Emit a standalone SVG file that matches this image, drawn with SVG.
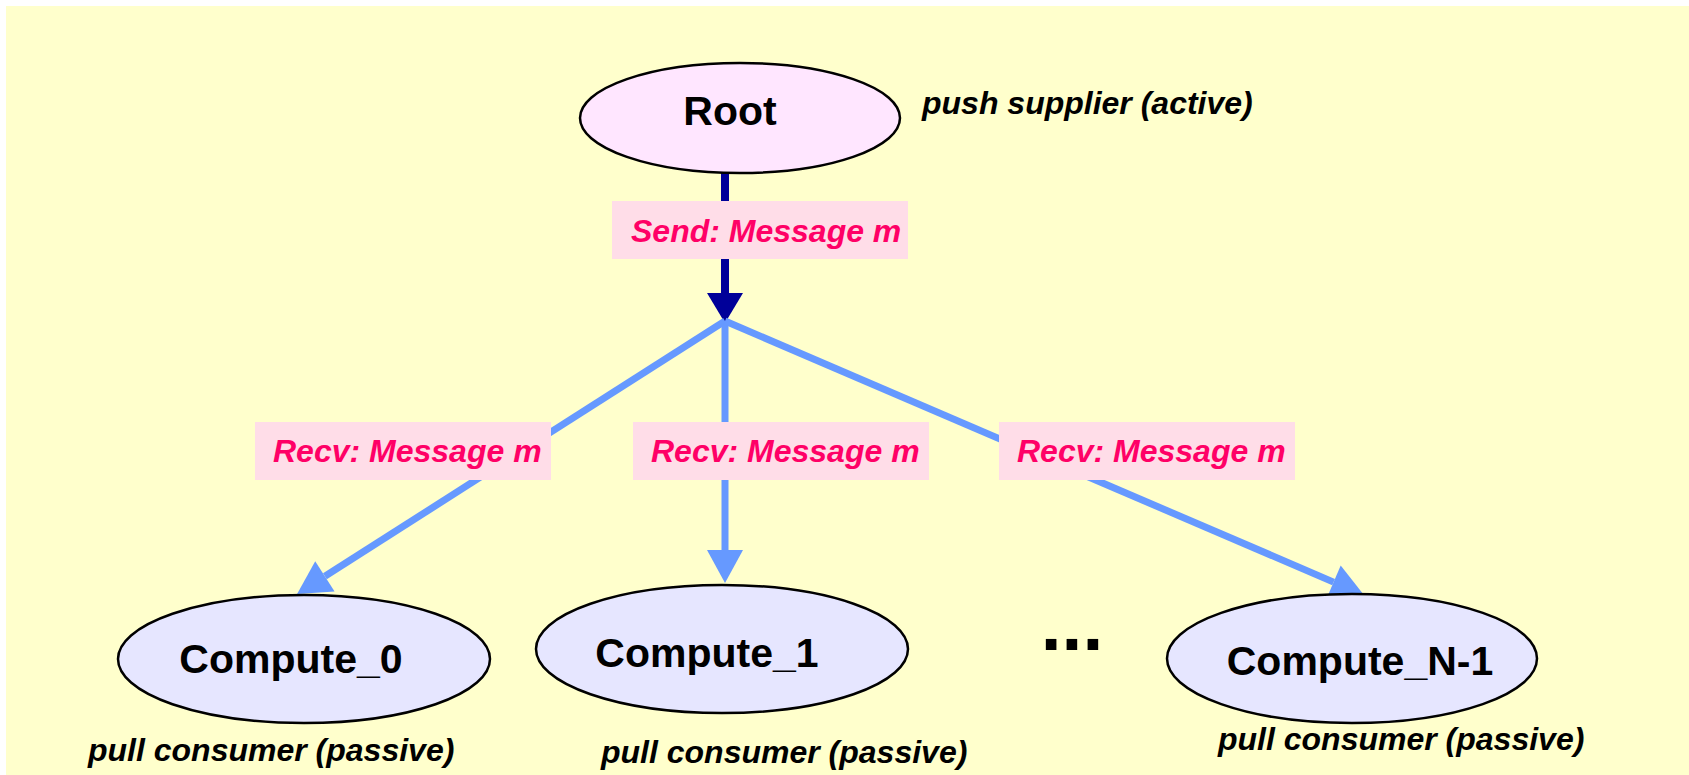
<svg xmlns="http://www.w3.org/2000/svg" width="1689" height="775" viewBox="0 0 1689 775">
  <style>
    .bg { fill: #FFFFCC; }
    .root { fill: #FFE6FF; stroke: #000000; stroke-width: 2.5; }
    .compute { fill: #E6E6FF; stroke: #000000; stroke-width: 2.5; }
    .name { font-family: "Liberation Sans", Arial, sans-serif; font-weight: bold; font-size: 41px; fill: #000000; text-anchor: middle; }
    .dots { font-family: "Liberation Sans", Arial, sans-serif; font-weight: bold; font-size: 75px; fill: #000000; text-anchor: middle; }
    .role { font-family: "Liberation Sans", Arial, sans-serif; font-weight: bold; font-style: italic; font-size: 32px; fill: #000000; }
    .tag { fill: #FFDDE8; }
    .msg { font-family: "Liberation Sans", Arial, sans-serif; font-weight: bold; font-style: italic; font-size: 32px; fill: #FF0066; }
    .send { stroke: #000099; stroke-width: 8; fill: none; }
    .recv { stroke: #6699FF; stroke-width: 7; fill: none; }
  </style>
  <defs>
    <marker id="headDark" markerUnits="userSpaceOnUse" markerWidth="31" markerHeight="36" refX="0" refY="18" orient="auto" overflow="visible">
      <path d="M0,0 L30,18 L0,36 Z" fill="#000099"/>
    </marker>
    <marker id="headLight" markerUnits="userSpaceOnUse" markerWidth="34" markerHeight="36" refX="0" refY="18" orient="auto" overflow="visible">
      <path d="M0,0 L33,18 L0,36 Z" fill="#6699FF"/>
    </marker>
  </defs>

  <rect class="bg" x="6" y="6" width="1683" height="769"/>

  <!-- connectors -->
  <g id="connectors">
    <line class="send" x1="725" y1="173" x2="725" y2="293" marker-end="url(#headDark)"/>
    <line class="recv" x1="725" y1="321" x2="324.9" y2="576.3" marker-end="url(#headLight)"/>
    <line class="recv" x1="725" y1="321" x2="725" y2="550" marker-end="url(#headLight)"/>
    <line class="recv" x1="725" y1="321" x2="1333.6" y2="582.1" marker-end="url(#headLight)"/>

    <g id="label-send">
      <rect class="tag" x="612" y="201" width="296" height="58"/>
      <text class="msg" x="631" y="242">Send: Message m</text>
    </g>
    <g id="label-recv-0">
      <rect class="tag" x="255" y="422" width="296" height="58"/>
      <text class="msg" x="273" y="462">Recv: Message m</text>
    </g>
    <g id="label-recv-1">
      <rect class="tag" x="633" y="422" width="296" height="58"/>
      <text class="msg" x="651" y="462">Recv: Message m</text>
    </g>
    <g id="label-recv-n">
      <rect class="tag" x="999" y="422" width="296" height="58"/>
      <text class="msg" x="1017" y="462">Recv: Message m</text>
    </g>
  </g>

  <!-- nodes -->
  <g id="root">
    <ellipse class="root" cx="740" cy="118" rx="160" ry="55"/>
    <text class="name" x="730" y="125">Root</text>
    <text class="role" x="922" y="114">push supplier (active)</text>
  </g>

  <g id="compute-0">
    <ellipse class="compute" cx="304" cy="659" rx="186" ry="64"/>
    <text class="name" x="291" y="673">Compute_0</text>
    <text class="role" x="88" y="761">pull consumer (passive)</text>
  </g>

  <g id="compute-1">
    <ellipse class="compute" cx="722" cy="649" rx="186" ry="64"/>
    <text class="name" x="707" y="667">Compute_1</text>
    <text class="role" x="601" y="763">pull consumer (passive)</text>
  </g>

  <g id="ellipsis">
    <text class="dots" x="1072" y="650">...</text>
  </g>

  <g id="compute-n-1">
    <ellipse class="compute" cx="1352" cy="658.5" rx="185" ry="64.5"/>
    <text class="name" x="1360" y="675">Compute_N-1</text>
    <text class="role" x="1218" y="750">pull consumer (passive)</text>
  </g>
</svg>
